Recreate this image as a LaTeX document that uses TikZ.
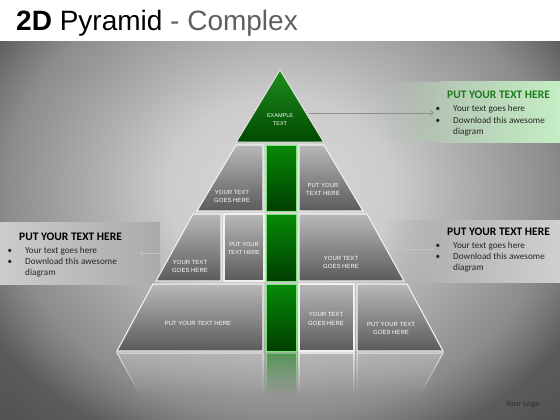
\documentclass[tikz,border=0pt]{standalone}
\usepackage{fontspec}
\setmainfont{Liberation Sans}
\newfontfamily\carl{Carlito}
\usetikzlibrary{arrows.meta,fadings}
\definecolor{bg0}{HTML}{D8D8D8}
\definecolor{bg1}{HTML}{CCCCCC}
\definecolor{bg2}{HTML}{B0B0B0}
\definecolor{bg3}{HTML}{8C8C8C}
\definecolor{bg4}{HTML}{787878}
\definecolor{bg5}{HTML}{5C5C5C}
\definecolor{bg6}{HTML}{505050}
\pgfdeclareradialshading{bgshade}{\pgfpoint{0bp}{0bp}}{color(0bp)=(bg0); color(10bp)=(bg1); color(16bp)=(bg2); color(24.5bp)=(bg3); color(27bp)=(bg4); color(30bp)=(bg5); color(36bp)=(bg6); color(50bp)=(bg6)}
\definecolor{celltop}{HTML}{B8B8B8}
\definecolor{cellbot}{HTML}{5A5A5A}
\definecolor{grtop}{HTML}{078A07}
\definecolor{grbot}{HTML}{003E00}
\definecolor{grline}{HTML}{7CE87C}
\definecolor{tritop}{HTML}{1E8E1E}
\definecolor{tribot}{HTML}{004A00}
\definecolor{titlegray}{HTML}{5F5F5F}
\definecolor{boxgreen}{HTML}{1B7A1B}
\definecolor{arrowgray}{HTML}{8E8E8E}
\definecolor{arrowlight}{HTML}{C4C4C4}
\definecolor{gboxA}{HTML}{B4C6B4}
\definecolor{gboxB}{HTML}{C4EEC4}
\definecolor{lboxA}{HTML}{CCCCCC}
\definecolor{lboxB}{HTML}{AAAAAA}
\definecolor{rboxA}{HTML}{B4B4B4}
\definecolor{rboxB}{HTML}{CFCFCF}
\definecolor{reflcell}{HTML}{BDBDBD}
\definecolor{reflgreen}{HTML}{2A8A2A}
\definecolor{logogray}{HTML}{2E2E2E}
\tikzfading[name=reflfade, top color=transparent!35, bottom color=transparent!100]
\tikzfading[name=boxfadein, left color=transparent!100, right color=transparent!0]
\tikzset{
  cell/.style={draw=white!88!gray, line width=1.1pt, top color=celltop, bottom color=cellbot},
  greencell/.style={draw=grline, line width=0.9pt, top color=grtop, bottom color=grbot},
  celltext/.style={text=white, font=\fontsize{6}{8.6}\selectfont, align=center, inner sep=0pt},
  boxtitle/.style={font=\carl\bfseries\fontsize{11.5}{13}\selectfont, anchor=base west, inner sep=0pt},
  boxline/.style={font=\carl\fontsize{9.2}{11}\selectfont, anchor=base west, inner sep=0pt, text=black!85},
  conn/.style={draw=arrowgray, line width=0.6pt, -{Straight Barb[length=2.5pt,width=5pt]}},
  connlight/.style={conn, draw=arrowlight},
  reflcellst/.style={fill=reflcell, draw=white, line width=1.1pt, path fading=reflfade},
  reflgreenst/.style={fill=reflgreen, draw=grline, line width=0.9pt, path fading=reflfade},
}
\newcommand\infobox[4]{%
  \node[boxtitle, text=#4] (#1t) at ({#2+10},{#3}) {PUT YOUR TEXT HERE};
  \node[boxline] (#1b1) at ({#2-1.5},{#3+13}) {•};
  \node[boxline] (#1l1) at ({#2+16},{#3+13}) {Your text goes here};
  \node[boxline] (#1b2) at ({#2-1.5},{#3+24}) {•};
  \node[boxline] (#1l2) at ({#2+16},{#3+24}) {Download this awesome};
  \node[boxline] (#1l3) at ({#2+16},{#3+35}) {diagram};
}
\begin{document}
\begin{tikzpicture}[x=1pt,y=-1pt]
\useasboundingbox (0,0) rectangle (560,420);
% background
\fill[white] (0,0) rectangle (560,42);
\begin{scope}
  \clip (0,42) rectangle (560,420);
  \shade[shading=bgshade] (0,-40) rectangle (560,420);
\end{scope}
% title
\node[anchor=base west, inner sep=0pt, font=\fontsize{28}{32}\selectfont] (title) at (16,31) {\textbf{2D} Pyramid \textcolor{titlegray}{- Complex}};
% info box backgrounds
\fill[gboxA, path fading=boxfadein] (380,82) rectangle (440,142);
\shade[left color=gboxA, right color=gboxB] (440,82) rectangle (560,142);
\shade[left color=lboxA, right color=lboxB] (0,222) rectangle (160,284);
\fill[rboxA, path fading=boxfadein] (385,220) rectangle (440,282);
\shade[left color=rboxA, right color=rboxB] (440,220) rectangle (560,282);
% reflection
\path[reflcellst] (117,353) -- (263,353) -- (263,395) -- (140,395) -- cycle;
\path[reflgreenst] (266.5,353) rectangle (296,395);
\path[reflcellst] (299,353) rectangle (354,395);
\path[reflcellst] (357,353) -- (443,353) -- (420,395) -- (357,395) -- cycle;
% top triangle
\path[draw=white!85!gray, line width=0.8pt, top color=tritop, bottom color=tribot] (280,70) -- (323.5,142) -- (236.5,142) -- cycle;
% tier 2
\path[cell] (236,145) -- (263,145) -- (263,211) -- (197,211) -- cycle;
\path[greencell] (266.5,145) rectangle (296,211);
\path[cell] (299,145) -- (324,145) -- (363,211) -- (299,211) -- cycle;
% tier 3
\path[cell] (193,214) -- (221,214) -- (221,281) -- (156,281) -- cycle;
\path[cell] (224,214) rectangle (264,281);
\path[greencell] (266.5,214) rectangle (296,281);
\path[cell] (299,214) -- (367,214) -- (404,281) -- (299,281) -- cycle;
% tier 4
\path[cell] (153,284) -- (263,284) -- (263,351) -- (117,351) -- cycle;
\path[greencell] (266.5,284) rectangle (296,351);
\path[cell] (299,284) rectangle (354,351);
\path[cell] (357,284) -- (407,284) -- (443,351) -- (357,351) -- cycle;
% cell texts
\node[celltext, font=\fontsize{5.5}{8}\selectfont] (t0) at (280,120) {EXAMPLE\\TEXT};
\node[celltext] (t2a) at (232,196.5) {YOUR TEXT\\GOES HERE};
\node[celltext] (t2b) at (323,189.5) {PUT YOUR\\TEXT HERE};
\node[celltext] (t3a) at (190,266.5) {YOUR TEXT\\GOES HERE};
\node[celltext, font=\fontsize{5.7}{8.6}\selectfont] (t3b) at (244,248.5) {PUT YOUR\\TEXT HERE};
\node[celltext] (t3c) at (341,262.5) {YOUR TEXT\\GOES HERE};
\node[celltext] (t4a) at (198,323) {PUT YOUR TEXT HERE};
\node[celltext] (t4c) at (326,319) {YOUR TEXT\\GOES HERE};
\node[celltext] (t4d) at (391,328.5) {PUT YOUR TEXT\\GOES HERE};
% info boxes
\infobox{R}{437}{99}{boxgreen}
\infobox{L}{9}{240}{black}
\infobox{M}{437}{235}{black}
% connectors
\coordinate (a1s) at (309,113);
\coordinate (a2s) at (163,253);
\coordinate (a2e) at (140,253);
\coordinate (a3s) at (396,249);
\draw[conn, shorten >=2pt] (a1s) -- (a1s -| Rb1.west);
\draw[connlight] (a2s) -- (a2e);
\draw[connlight, shorten >=2pt] (a3s) -- (a3s -| Mb1.west);
% logo
\node[font=\carl\fontsize{8.5}{10}\selectfont, text=logogray, inner sep=0pt] (logo) at (523,405) {Your Logo};
\end{tikzpicture}
\end{document}
